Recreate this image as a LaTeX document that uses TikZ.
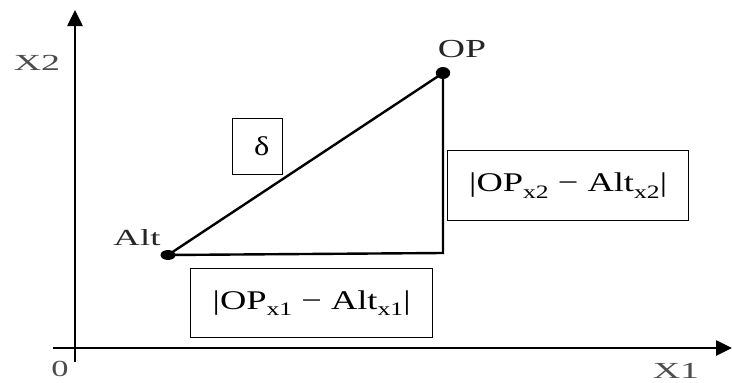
\documentclass[tikz,border=0pt]{standalone}
\usepackage{fontspec}
\setmainfont{Liberation Serif}
\usetikzlibrary{arrows.meta}
\newcommand{\sbx}[1]{\raisebox{-0.25em}{\fontsize{19}{20}\selectfont #1}}
\newcommand{\wide}[2]{\scalebox{#1}[1]{#2}}
\begin{document}
\begin{tikzpicture}[x=1pt,y=-1pt,
  axis/.style={line width=2.6pt,-{Triangle[length=16pt,width=15pt]}},
  seg/.style={line width=2.4pt},
  lbl/.style={font=\fontsize{23}{25}\selectfont,text=black!70},
  boxlbl/.style={draw,line width=1.3pt,font=\fontsize{27}{30}\selectfont,inner sep=0pt,anchor=north west}]
\useasboundingbox (0,0) rectangle (732,383);
\coordinate (yb) at (75,362);
\coordinate (yt) at (75,10);
\coordinate (xl) at (53,348);
\coordinate (xr) at (732,348);
\draw[axis] (yb) -- (yt);
\draw[axis] (xl) -- (xr);
\node[lbl] (x2) at (37,63) {\wide{1.65}{X2}};
\node[lbl] (o) at (60,369) {\wide{1.5}{0}};
\node[lbl] (x1) at (676,371) {\wide{1.65}{X1}};
\node[circle,fill=black,inner sep=0pt,minimum size=10pt,xscale=1.5] (alt) at (168,255) {};
\node[circle,fill=black,inner sep=0pt,minimum size=12pt,xscale=1.2] (op) at (443,73) {};
\coordinate (c) at (443,253);
\draw[seg] (alt.center) -- (op.center);
\draw[seg] (alt.center) -- (c) -- (op.center);
\node[lbl,text=black!85] (altl) at (137,238) {\wide{1.6}{Alt}};
\node[lbl,text=black!85,font=\fontsize{26}{28}\selectfont] (opl) at (462,49) {\wide{1.45}{OP}};
\node[boxlbl,minimum width=50pt,minimum height=56pt] (d) at (232,118) {\hspace*{8pt}\wide{1.2}{δ}};
\node[boxlbl,minimum width=241pt,minimum height=70pt] (b2) at (447,150) {\wide{1.35}{|OP\sbx{x2} − Alt\sbx{x2}|}};
\node[boxlbl,minimum width=242pt,minimum height=69pt] (b1) at (190,268) {\wide{1.35}{|OP\sbx{x1} − Alt\sbx{x1}|}};
\end{tikzpicture}
\end{document}
